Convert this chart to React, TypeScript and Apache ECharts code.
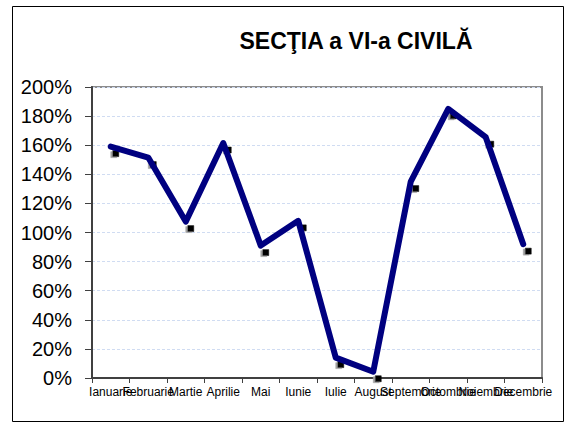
import React, { useEffect, useRef } from "react";
import * as echarts from "echarts";

const categories = [
  "Ianuarie", "Februarie", "Martie", "Aprilie", "Mai", "Iunie",
  "Iulie", "August", "Septembrie", "Octombrie", "Noiembrie", "Decembrie",
];
const values = [159, 151.5, 107.5, 161.5, 91, 108, 14, 4.3, 135, 185, 165.5, 92];
const titleText = "SECŢIA a VI-a CIVILĂ";

const FONT = 'Arial, "Liberation Sans", sans-serif';

export default function App() {
  const ref = useRef<HTMLDivElement>(null);
  useEffect(() => {
    if (!ref.current) return;
    const chart = echarts.init(ref.current, undefined, { renderer: "svg" });
    chart.setOption({
      animation: false,
      backgroundColor: "#ffffff",
      graphic: [
        {
          type: "rect",
          shape: { x: 12.5, y: 6.5, width: 551, height: 415 },
          style: { fill: "none", stroke: "#000000", lineWidth: 1 },
          silent: true,
        },
        {
          type: "text",
          x: 356,
          y: 41,
          style: {
            text: titleText,
            font: `bold 23px ${FONT}`,
            fill: "#000000",
            align: "center",
            verticalAlign: "middle",
          },
        },
      ],
      grid: {
        left: 92,
        top: 87,
        right: 28,
        bottom: 45,
        show: true,
        borderColor: "#8c8c8c",
        borderWidth: 2,
        backgroundColor: "#ffffff",
      },
      xAxis: {
        type: "category",
        data: categories,
        boundaryGap: true,
        axisLine: { show: true, lineStyle: { color: "#404040", width: 2 } },
        axisTick: { show: true, interval: 0, length: 5, lineStyle: { color: "#404040", width: 1 } },
        axisLabel: {
          interval: 0,
          fontSize: 12,
          fontFamily: FONT,
          color: "#000000",
          margin: 8,
          hideOverlap: false,
        },
        splitLine: { show: false },
      },
      yAxis: {
        type: "value",
        min: 0,
        max: 200,
        interval: 20,
        axisLine: { show: true, lineStyle: { color: "#404040", width: 2 } },
        axisTick: { show: true, length: 7, lineStyle: { color: "#404040", width: 1 } },
        axisLabel: {
          formatter: "{value}%",
          fontSize: 20,
          fontFamily: FONT,
          color: "#000000",
          margin: 20,
        },
        splitLine: {
          show: true,
          lineStyle: { color: "#d0dcf2", type: [3, 2], width: 1 },
        },
      },
      series: [
        {
          type: "scatter",
          data: values,
          symbol: "rect",
          symbolSize: 6,
          symbolOffset: [5, 7],
          z: 2,
          itemStyle: {
            color: "#000000",
            opacity: 1,
            borderColor: "#000000",
            borderWidth: 0.5,
            shadowColor: "#a0a0a0",
            shadowOffsetX: -2,
            shadowOffsetY: 1,
            shadowBlur: 0,
          },
          silent: true,
        },
        {
          type: "line",
          data: values,
          showSymbol: false,
          symbol: "none",
          z: 3,
          lineStyle: { color: "#000080", width: 6, cap: "round", join: "round" },
          silent: true,
        },
      ],
    });
    return () => chart.dispose();
  }, []);
  return (
    <div
      ref={ref}
      style={{ position: "absolute", left: 0, top: 0, width: 570, height: 423 }}
    />
  );
}
